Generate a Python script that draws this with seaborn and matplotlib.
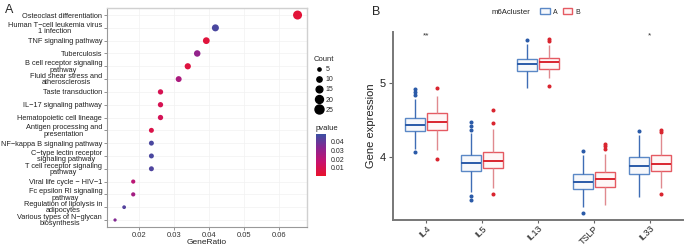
import numpy as np
import pandas as pd
import matplotlib.pyplot as plt
import matplotlib.colors as mcolors
from matplotlib.lines import Line2D
from matplotlib.patches import Patch
import seaborn as sns

# Panel A: KEGG enrichment dot plot
pathways = [
    "Osteoclast differentiation",
    "Human T\u2212cell leukemia virus\n1 infection",
    "TNF signaling pathway",
    "Tuberculosis",
    "B cell receptor signaling\npathway",
    "Fluid shear stress and\natherosclerosis",
    "Taste transduction",
    "IL\u221217 signaling pathway",
    "Hematopoietic cell lineage",
    "Antigen processing and\npresentation",
    "NF\u2212kappa B signaling pathway",
    "C\u2212type lectin receptor\nsignaling pathway",
    "T cell receptor signaling\npathway",
    "Viral life cycle \u2212 HIV\u22121",
    "Fc epsilon RI signaling\npathway",
    "Regulation of lipolysis in\nadipocytes",
    "Various types of N\u2212glycan\nbiosynthesis",
]
gene_ratio = [0.0653, 0.0418, 0.0392, 0.0366, 0.0339, 0.0313, 0.0261, 0.0261, 0.0261,
              0.0235, 0.0235, 0.0235, 0.0235, 0.0183, 0.0183, 0.0157, 0.0131]
counts = [25, 16, 15, 14, 13, 12, 10, 10, 10, 9, 9, 9, 9, 7, 7, 6, 5]
pvalues = [0.004, 0.045, 0.005, 0.030, 0.006, 0.024, 0.010, 0.010, 0.011,
           0.008, 0.045, 0.045, 0.044, 0.020, 0.026, 0.043, 0.034]
count_legend = [5, 10, 15, 20, 25]
pvalue_ticks = [0.01, 0.02, 0.03, 0.04]
ratio_ticks = [0.02, 0.03, 0.04, 0.05, 0.06]

# Panel B: gene expression by m6A cluster (values read per box)
genes = ["IL4", "IL5", "IL13", "TSLP", "IL33"]
clusters = ["A", "B"]
expr_A = {
    "IL4": [4.06, 4.10, 4.25, 4.32, 4.35, 4.38, 4.40, 4.42, 4.43, 4.46, 4.49, 4.51, 4.53, 4.79, 4.84, 4.88, 4.92],
    "IL5": [3.41, 3.46, 3.52, 3.70, 3.81, 3.85, 3.88, 3.90, 3.91, 3.94, 3.97, 4.00, 4.03, 4.32, 4.37, 4.42, 4.47],
    "IL13": [4.94, 5.03, 5.10, 5.14, 5.17, 5.20, 5.23, 5.25, 5.26, 5.28, 5.30, 5.315, 5.33, 5.40, 5.47, 5.53, 5.59],
    "TSLP": [3.24, 3.32, 3.42, 3.50, 3.56, 3.59, 3.62, 3.64, 3.66, 3.69, 3.71, 3.74, 3.765, 3.85, 3.95, 4.03, 4.08],
    "IL33": [3.455, 3.56, 3.65, 3.71, 3.76, 3.80, 3.84, 3.86, 3.88, 3.91, 3.94, 3.97, 3.99, 4.08, 4.18, 4.30, 4.35],
}
expr_B = {
    "IL4": [3.97, 4.09, 4.25, 4.33, 4.37, 4.40, 4.43, 4.45, 4.47, 4.50, 4.53, 4.56, 4.59, 4.66, 4.74, 4.83, 4.94],
    "IL5": [3.49, 3.58, 3.70, 3.79, 3.84, 3.88, 3.91, 3.93, 3.945, 3.97, 4.00, 4.03, 4.06, 4.20, 4.38, 4.46, 4.64],
    "IL13": [4.97, 5.07, 5.13, 5.17, 5.20, 5.23, 5.25, 5.27, 5.285, 5.30, 5.315, 5.33, 5.34, 5.40, 5.52, 5.57, 5.60],
    "TSLP": [3.34, 3.44, 3.50, 3.55, 3.59, 3.62, 3.65, 3.67, 3.69, 3.72, 3.74, 3.77, 3.79, 4.04, 4.11, 4.15, 4.18],
    "IL33": [3.49, 3.58, 3.68, 3.75, 3.81, 3.84, 3.87, 3.89, 3.905, 3.93, 3.96, 3.99, 4.02, 4.15, 4.31, 4.34, 4.37],
}
signif = ["**", "", "", "", "*"]

rows = []
for cl, d in zip(clusters, [expr_A, expr_B]):
    for g in genes:
        for v in d[g]:
            rows.append((g, cl, v))
df_box = pd.DataFrame(rows, columns=["gene", "m6Acluster", "expr"])

df_dot = pd.DataFrame({"y": np.arange(len(pathways)), "GeneRatio": gene_ratio,
                       "Count": counts, "pvalue": pvalues})

sns.set_style("white")
plt.rcParams["font.family"] = ["Liberation Sans", "DejaVu Sans"]

fig = plt.figure(figsize=(6.85, 2.46), dpi=100)

# ---------------- panel A ----------------
cmap = mcolors.LinearSegmentedColormap.from_list(
    "pv", ["#E8132B", "#C8126E", "#8A2590", "#3B4FA3"])
pnorm = mcolors.Normalize(0.001, 0.048)

axA = fig.add_axes([107 / 685, 1 - 227.3 / 246, 200 / 685, 219.3 / 246])
sns.scatterplot(data=df_dot, x="GeneRatio", y="y", hue="pvalue", size="Count",
                sizes=(5.5, 42), size_norm=(5, 25), palette=cmap, hue_norm=pnorm,
                edgecolor="none", legend=False, ax=axA, zorder=3)
axA.set_xlim(0.0108, 0.068)
axA.set_ylim(16.57, -0.55)
axA.set_yticks(np.arange(len(pathways)))
axA.set_yticklabels(pathways, fontsize=5.3, linespacing=0.85, multialignment="center", color="#222222")
axA.set_xticks(ratio_ticks)
axA.set_xticklabels([f"{t:.2f}" for t in ratio_ticks], fontsize=5.5, color="#333333")
axA.set_xlabel("GeneRatio", fontsize=6, labelpad=0, color="#222222")
axA.set_ylabel("")
axA.grid(True, color="#F2F2F2", linewidth=0.5)
axA.tick_params(axis="both", length=2, width=0.5, color="#666666", pad=1.5, left=True, bottom=True)
for s in ["top", "right"]:
    axA.spines[s].set_color("#D0D0D0")
    axA.spines[s].set_linewidth(1.0)
for s in ["left", "bottom"]:
    axA.spines[s].set_color("#999999")
    axA.spines[s].set_linewidth(0.8)

# size legend
def msize(c):
    s = 5.5 + (c - 5) / 20 * (42 - 5.5)
    return np.sqrt(s)

size_handles = [Line2D([], [], marker="o", linestyle="none", color="black",
                       markersize=msize(c), label=str(c)) for c in count_legend]
legA = fig.legend(handles=size_handles, title="Count", loc="upper left",
                  bbox_to_anchor=(314 / 685, 1 - 56 / 246), frameon=False,
                  fontsize=5, title_fontsize=5.5, labelspacing=0.45,
                  handletextpad=0.3, handlelength=1.4, borderaxespad=0, borderpad=0)
legA._legend_box.align = "left"

fig.text(316 / 685, 1 - 128 / 246, "pvalue", fontsize=5.5, va="center", ha="left", color="#222222")
cax = fig.add_axes([316 / 685, 1 - 176 / 246, 10 / 685, 42 / 246])
sm = plt.cm.ScalarMappable(norm=pnorm, cmap=cmap)
cb = fig.colorbar(sm, cax=cax, ticks=pvalue_ticks)
cb.outline.set_visible(False)
cb.ax.tick_params(labelsize=5, length=2, width=0.5, color="white", pad=1.5)
cb.ax.set_yticklabels([f"{t:.2f}" for t in pvalue_ticks])

# ---------------- panel B ----------------
axB = fig.add_axes([393 / 685, 1 - 220 / 246, 290 / 685, 188.3 / 246])
styles = {
    "A": dict(fill="#F6F8FC", edge="#5B88C6", med="#2A5AA8", whisk="#3F6DB5"),
    "B": dict(fill="#FFF6F6", edge="#E55A62", med="#D9252F", whisk="#E08A8F"),
}
for cl in clusters:
    st = styles[cl]
    sns.boxplot(data=df_box[df_box["m6Acluster"] == cl], x="gene", y="expr",
                hue="m6Acluster", hue_order=clusters, order=genes,
                palette={c: styles[c]["fill"] for c in clusters},
                width=0.8, gap=0.1, dodge=True, showcaps=False, legend=False,
                linecolor=st["edge"], linewidth=1.0,
                medianprops=dict(color=st["med"], linewidth=1.4),
                whiskerprops=dict(color=st["whisk"], linewidth=1.0),
                flierprops=dict(marker="o", markersize=1.9, markerfacecolor=st["med"],
                                markeredgecolor=st["med"]),
                ax=axB)

for i, lab in enumerate(signif):
    if lab:
        axB.text(i, 5.64, lab, ha="center", va="center", fontsize=6, color="#333333")

axB.set_xlim(-0.59, 4.59)
axB.set_ylim(3.138, 5.703)
axB.set_yticks([4, 5])
axB.set_yticklabels(["4", "5"], fontsize=8, color="#222222")
axB.set_xticks(range(len(genes)))
axB.set_xticklabels(genes, rotation=45, ha="right", rotation_mode="anchor", fontsize=6.5, color="#222222")
axB.set_xlabel("")
axB.set_ylabel("Gene expression", fontsize=8, color="#222222", labelpad=3)
axB.tick_params(axis="y", length=3, width=0.8, color="#666666", pad=2, left=True)
axB.tick_params(axis="x", length=2, width=0.8, color="#666666", pad=1, bottom=True)
sns.despine(ax=axB)
for s in ["left", "bottom"]:
    axB.spines[s].set_color("#777777")
    axB.spines[s].set_linewidth(1.4)

fig.text(492 / 685, 1 - 12 / 246, "m6Acluster", fontsize=5.6, va="center", ha="left", color="#222222")
box_handles = [Patch(facecolor=styles[c]["fill"], edgecolor=styles[c]["edge"], linewidth=1.0, label=c)
               for c in clusters]
fig.legend(handles=box_handles, loc="center left", bbox_to_anchor=(540 / 685, 1 - 12 / 246),
           ncol=2, frameon=False, fontsize=5, handlelength=1.4, handleheight=0.9,
           handletextpad=0.4, columnspacing=0.8, borderaxespad=0, borderpad=0)

fig.text(5 / 685, 1 - 10 / 246, "A", fontsize=9, va="center", ha="left")
fig.text(372 / 685, 1 - 12 / 246, "B", fontsize=9, va="center", ha="left")

fig.savefig("out.png", dpi=100)
